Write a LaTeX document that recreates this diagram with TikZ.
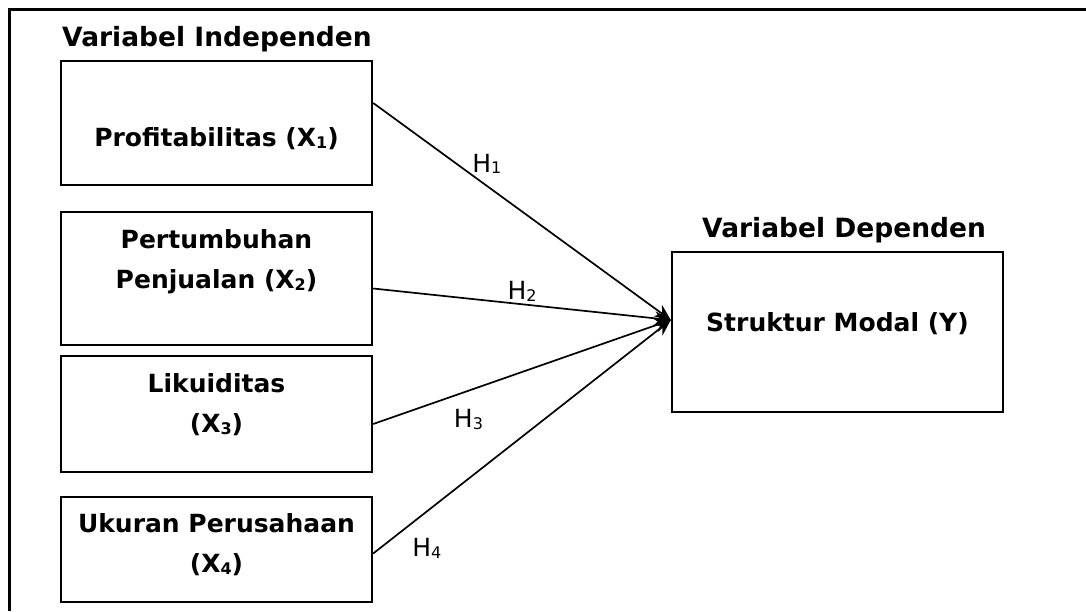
\documentclass[tikz,border=0pt]{standalone}
\usepackage{fontspec}
\setmainfont{DejaVu Sans}
\usetikzlibrary{positioning, arrows.meta}
\newcommand{\idx}[2][16]{\raisebox{-1.5pt}{\fontsize{#1}{#1}\selectfont #2}}

\begin{document}
\begin{tikzpicture}[
                x=1pt, y=-1pt,
                >={Stealth[length=16pt, width=14pt]},
                varbox/.style={draw, line width=2.4pt, minimum width=311pt, inner sep=0pt},
                boxtext/.style={font=\bfseries\fontsize{25}{40}\selectfont, align=center},
                heading/.style={font=\bfseries\fontsize{26.5}{32}\selectfont, inner sep=0pt},
                hyp/.style={font=\fontsize{25}{28}\selectfont, inner sep=0pt},
                link/.style={->, line width=1.7pt}
              ]

              \useasboundingbox (0,0) rectangle (1086,611);

              % Frame
              \draw[line width=3pt] (9,611) -- (9,9) -- (1086,9);

              % Headings
              \node[heading, anchor=base west] (indep) at (62,46) {Variabel Independen};
              \node[heading, anchor=base west] (dep) at (702,237) {Variabel Dependen};

              % Variables
              \node[varbox, minimum height=124pt] (x1) at (216.5,123) {};
              \node[varbox, minimum height=133pt] (x2) at (216.5,278.5) {};
              \node[varbox, minimum height=116pt] (x3) at (216.5,414) {};
              \node[varbox, minimum height=105pt] (x4) at (216.5,549.5) {};
              \node[varbox, minimum width=331pt, minimum height=160pt] (y) at (837.5,332) {};

              \node[boxtext] (t1) at (216.5,139) {Profitabilitas (X\idx{1})};
              \node[boxtext] (t2) at (216.5,262) {Pertumbuhan\\Penjualan (X\idx{2})};
              \node[boxtext] (t3) at (216.5,405) {Likuiditas\\(X\idx{3})};
              \node[boxtext] (t4) at (216.5,545) {Ukuran Perusahaan\\(X\idx{4})};
              \node[boxtext] (ty) at (837.5,324) {Struktur Modal (Y)};

              % Hypotheses
              \coordinate (tip) at ([yshift=12pt]y.west);
              \draw[link] ([yshift=20pt]x1.east) -- node[hyp, pos=0.33, above right] (h1) {H\idx{1}} (tip);
              \draw[link] ([yshift=-10pt]x2.east) -- node[hyp, pos=0.5, above=2pt] (h2) {H\idx{2}} (tip);
              \draw[link] ([yshift=-10pt]x3.east) -- node[hyp, pos=0.32, below=18pt] (h3) {H\idx{3}} (tip);
              \draw[link] ([yshift=-4pt]x4.east) -- node[hyp, pos=0.18, below=26pt] (h4) {H\idx{4}} (tip);
              \end{tikzpicture}
\end{document}
